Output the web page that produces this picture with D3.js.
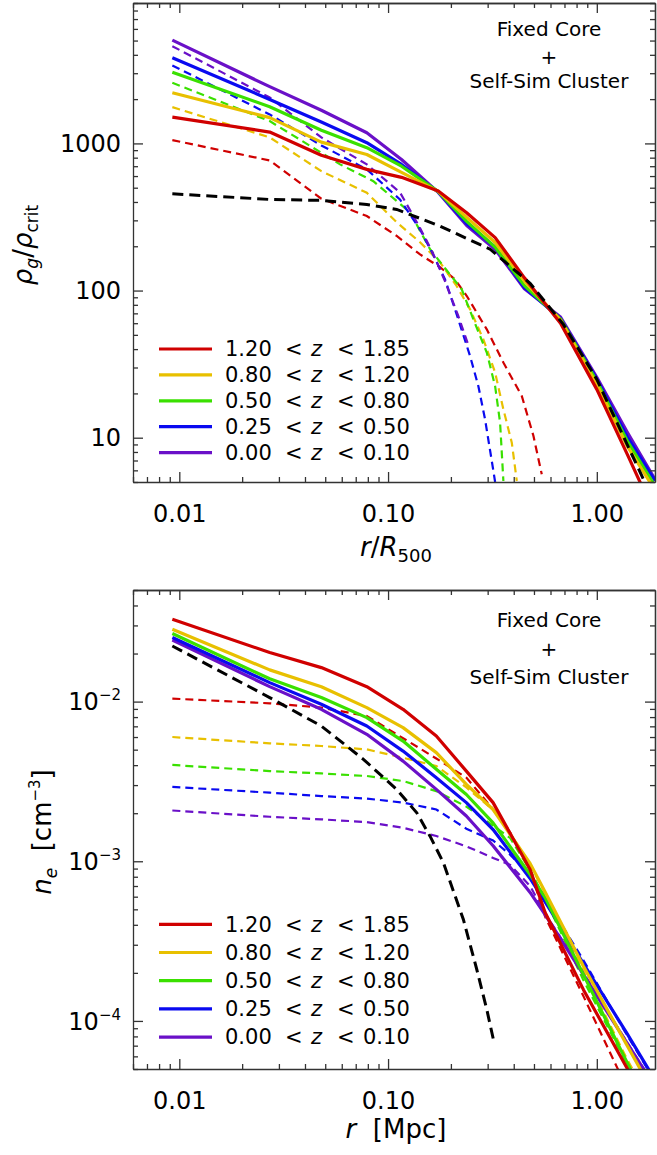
<!DOCTYPE html>
<html>
<head>
<meta charset="utf-8">
<script src="https://cdn.jsdelivr.net/npm/d3@7"></script>
<style>
  body { margin: 0; background: #fff; }
  svg { display: block; }
  text { font-family: "DejaVu Sans", sans-serif; fill: #000; white-space: pre; }
</style>
</head>
<body>
<svg id="chart" width="657" height="1155"></svg>
<script>
// ---- data ----
var zBins = [["1.20", "1.85"], ["0.80", "1.20"], ["0.50", "0.80"], ["0.25", "0.50"], ["0.00", "0.10"]];
var xTickValues = [0.01, 0.1, 1];
var rhoTickValues = [10, 100, 1000];
var neTickValues = [1e-4, 1e-3, 1e-2];
var neTickExp = ["\u22124", "\u22123", "\u22122"];

// top panel: rho_g / rho_crit vs r/R500
var rTopSolid = [0.00926, 0.0271, 0.0479, 0.0791, 0.116, 0.174, 0.238, 0.326, 0.45, 0.67, 1.0, 1.4, 1.9];
var rhoRed    = [1510, 1194, 830, 666, 588, 475, 338, 229, 122, 60, 21.3, 7.7, 3.0];
var rhoGold   = [2210, 1496, 1020, 841, 635, 472, 314, 212, 116, 63, 23, 8.75, 4.4];
var rhoGreen  = [3050, 1775, 1230, 935, 700, 470, 295, 197, 108, 64, 24.2, 9.5, 4.7];
var rhoBlue   = [3820, 1990, 1400, 1011, 720, 468, 286, 197, 105, 64.5, 25, 10.1, 5.1];
var rhoPurple = [5030, 2430, 1680, 1182, 778, 465, 277, 190, 103, 66, 25.7, 10.9, 5.2];

var rhoDashRedR = [0.00926, 0.0271, 0.0479, 0.0791, 0.110, 0.1423, 0.1774, 0.2094, 0.2383, 0.2971, 0.3568, 0.4371, 0.4969, 0.5449];
var rhoDashRed  = [1053, 766, 421, 321, 235, 176, 144, 119, 91.8, 54.5, 32.4, 19.2, 10.3, 5.64];
var rhoDashGoldR = [0.00926, 0.0271, 0.0479, 0.0791, 0.110, 0.1423, 0.1774, 0.2134, 0.2471, 0.2861, 0.3257, 0.3568, 0.3915, 0.4137];
var rhoDashGold  = [1765, 1099, 648, 462, 291, 213, 155.5, 107, 74.5, 46.6, 27.7, 15.6, 9.26, 5.08];
var rhoDashGreenR = [0.00926, 0.0271, 0.0479, 0.0589, 0.0850, 0.1274, 0.1589, 0.1896, 0.2254, 0.2563, 0.2971, 0.3257, 0.3440, 0.3568];
var rhoDashGreen  = [2582, 1418, 864, 720, 554, 340, 191, 139, 102, 63.7, 37.9, 22.4, 12.7, 5.08];
var rhoDashBlueR = [0.00926, 0.0271, 0.0479, 0.0791, 0.114, 0.1423, 0.1643, 0.1875, 0.2094, 0.2471, 0.2708, 0.2916, 0.3196, 0.3257];
var rhoDashBlue  = [3390, 1574, 969, 666, 416, 260, 176, 119, 74.5, 35.9, 22.4, 13.3, 5.94, 5.0];
var rhoDashPurpleR = [0.00926, 0.0271, 0.0479, 0.0791, 0.114, 0.1392, 0.1625, 0.1875, 0.2165, 0.2417];
var rhoDashPurple  = [4580, 2054, 1099, 720, 465, 282, 185, 115.5, 67.8, 43.1];
var rhoCoreR = [0.00926, 0.0271, 0.0479, 0.0791, 0.110, 0.1774, 0.3082, 0.4791, 0.6918, 1.0, 1.293, 1.672, 1.903];
var rhoCore  = [455, 416, 410, 385, 356, 274, 191, 112, 58.9, 24.9, 11.4, 5.22, 3.53];

// bottom panel: n_e vs r [Mpc]
var rBotSolid = [0.00926, 0.0271, 0.0479, 0.0791, 0.118, 0.1703, 0.2372, 0.3185, 0.4791, 0.5654, 0.8627, 1.392, 1.9];
var neRed    = [0.0328, 0.0203, 0.01633, 0.0124, 0.00895, 0.00609, 0.00367, 0.00233, 0.000889, 0.000478, 0.000157, 5.09e-5, 2.45e-5];
var neGold   = [0.0284, 0.0158, 0.0124, 0.00917, 0.00687, 0.00479, 0.00303, 0.00211, 0.00097, 0.000641, 0.000220, 7.08e-5, 3.41e-5];
var neGreen  = [0.0267, 0.0139, 0.0106, 0.00794, 0.00566, 0.00377, 0.00262, 0.00174, 0.000826, 0.000593, 0.000195, 5.53e-5, 2.44e-5];
var neBlue   = [0.0252, 0.01315, 0.00962, 0.00703, 0.0049, 0.00334, 0.00233, 0.00158, 0.00078, 0.000557, 0.000229, 8.38e-5, 4.27e-5];
var nePurple = [0.0243, 0.01241, 0.00895, 0.00624, 0.00424, 0.00282, 0.00192, 0.00125, 0.000638, 0.000463, 0.000195, 7.31e-5, 3.85e-5];

var rBotDash = [0.00926, 0.0271, 0.0479, 0.0791, 0.118, 0.1703, 0.2372, 0.3185, 0.3843, 0.4791, 0.5654, 0.8627, 1.392, 1.9];
var neDashRed    = [0.01044, 0.00976, 0.00917, 0.00812, 0.0059, 0.0044, 0.00334, 0.00212, 0.00152, 0.00088, 0.00045, 0.000143, 3.8e-5, 1.6e-5];
var neDashGold   = [0.0060, 0.00548, 0.00527, 0.00502, 0.00445, 0.00395, 0.0029, 0.0021, 0.0015, 0.00095, 0.00063, 0.000205, 5.8e-5, 2.8e-5];
var neDashGreen  = [0.00401, 0.00367, 0.00355, 0.00342, 0.00318, 0.00275, 0.0022, 0.00167, 0.0014, 0.00088, 0.00058, 0.00018, 5.4e-5, 2.4e-5];
var neDashBlue   = [0.00292, 0.00269, 0.00256, 0.00247, 0.00233, 0.00211, 0.0016, 0.00135, 0.0011, 0.00082, 0.00059, 0.00024, 8.2e-5, 4.2e-5];
var neDashPurple = [0.00208, 0.0019, 0.00183, 0.00176, 0.00162, 0.00144, 0.00124, 0.00105, 0.00095, 0.0007, 0.00047, 0.0002, 7.4e-5, 3.9e-5];
var neCoreR = [0.00926, 0.0271, 0.0479, 0.0762, 0.110, 0.1373, 0.1589, 0.1841, 0.2295, 0.2661, 0.2971, 0.3196];
var neCore  = [0.0223, 0.0106, 0.00703, 0.00435, 0.00282, 0.00201, 0.001436, 0.00098, 0.000432, 0.00021, 0.000118, 7.64e-5];

var binColors = ["#d00000", "#e8c000", "#3ae000", "#0a0af0", "#6a10c8"];

var svg = d3.select("#chart");
var xDomain = [0.006, 1.9];

function pairs(rs, vs) {
  return rs.map(function (r, i) { return [r, vs[i]]; });
}

function minorTicks(lo, hi) {
  var out = [];
  for (var e = Math.floor(Math.log10(lo)); e <= Math.ceil(Math.log10(hi)); e++) {
    for (var m = 2; m <= 9; m++) {
      var v = m * Math.pow(10, e);
      if (v >= lo * 0.999 && v <= hi * 1.001) out.push(v);
    }
  }
  return out;
}

function drawPanel(p) {
  var x = d3.scaleLog().domain(xDomain).range([p.left, p.right]);
  var y = d3.scaleLog().domain(p.yDomain).range([p.bottom, p.top]);
  var g = svg.append("g");

  g.append("clipPath").attr("id", "clip" + p.id)
    .append("rect")
      .attr("x", p.left).attr("y", p.top)
      .attr("width", p.right - p.left).attr("height", p.bottom - p.top);

  var line = d3.line()
      .x(function (d) { return x(d[0]); })
      .y(function (d) { return y(d[1]); });

  var curves = g.append("g").attr("clip-path", "url(#clip" + p.id + ")");

  // colored dashed (cluster-only) curves
  p.dashed.forEach(function (s, i) {
    curves.append("path")
      .attr("d", line(s))
      .attr("fill", "none")
      .attr("stroke", binColors[i])
      .attr("stroke-width", 2.2)
      .attr("stroke-dasharray", "8,5");
  });
  // solid curves, purple first so red sits on top
  for (var i = p.solid.length - 1; i >= 0; i--) {
    curves.append("path")
      .attr("d", line(p.solid[i]))
      .attr("fill", "none")
      .attr("stroke", binColors[i])
      .attr("stroke-width", 3.2)
      .attr("stroke-linejoin", "round");
  }
  // black core profile
  curves.append("path")
    .attr("d", line(p.core))
    .attr("fill", "none")
    .attr("stroke", "#000")
    .attr("stroke-width", 3)
    .attr("stroke-dasharray", "11,6");

  // axes: ticks pointing inwards on all four sides
  var xMinor = minorTicks(xDomain[0], xDomain[1]);
  var yMinor = minorTicks(p.yDomain[0], p.yDomain[1]);

  function styleAxis(sel) {
    sel.selectAll("path, line").attr("stroke", "#333").attr("stroke-width", 1.3);
  }

  g.append("g").attr("transform", "translate(0," + p.bottom + ")")
    .call(d3.axisBottom(x).tickValues(xMinor).tickSize(-5).tickSizeOuter(0).tickFormat(""))
    .call(styleAxis);
  var xb = g.append("g").attr("transform", "translate(0," + p.bottom + ")")
    .call(d3.axisBottom(x).tickValues(xTickValues).tickSize(-10).tickSizeOuter(0)
      .tickPadding(23).tickFormat(d3.format(".2f")))
    .call(styleAxis);
  xb.selectAll("text").attr("font-family", "DejaVu Sans").attr("font-size", 24).attr("fill", "#000");
  xb.select(".domain").remove();

  g.append("g").attr("transform", "translate(0," + p.top + ")")
    .call(d3.axisTop(x).tickValues(xMinor).tickSize(-5).tickSizeOuter(0).tickFormat(""))
    .call(styleAxis);
  g.append("g").attr("transform", "translate(0," + p.top + ")")
    .call(d3.axisTop(x).tickValues(xTickValues).tickSize(-10).tickSizeOuter(0).tickFormat(""))
    .call(styleAxis);

  g.append("g").attr("transform", "translate(" + p.left + ",0)")
    .call(d3.axisLeft(y).tickValues(yMinor).tickSize(-5).tickSizeOuter(0).tickFormat(""))
    .call(styleAxis);
  var yl = g.append("g").attr("transform", "translate(" + p.left + ",0)")
    .call(d3.axisLeft(y).tickValues(p.yTicks).tickSize(-10).tickSizeOuter(0)
      .tickPadding(12).tickFormat(p.yFormat ? d3.format("d") : ""))
    .call(styleAxis);
  yl.selectAll("text").attr("font-family", "DejaVu Sans").attr("font-size", 24).attr("fill", "#000");
  yl.select(".domain").remove();

  g.append("g").attr("transform", "translate(" + p.right + ",0)")
    .call(d3.axisRight(y).tickValues(yMinor).tickSize(-5).tickSizeOuter(0).tickFormat(""))
    .call(styleAxis);
  g.append("g").attr("transform", "translate(" + p.right + ",0)")
    .call(d3.axisRight(y).tickValues(p.yTicks).tickSize(-10).tickSizeOuter(0).tickFormat(""))
    .call(styleAxis);

  // power-of-ten labels for the density axis
  if (!p.yFormat) {
    p.yTicks.forEach(function (v, i) {
      var t = g.append("text")
        .attr("x", p.left - 12).attr("y", y(v)).attr("dy", "0.36em")
        .attr("text-anchor", "end").attr("font-size", 24);
      t.append("tspan").text("10");
      t.append("tspan").attr("dy", -10).attr("font-size", 15).text(neTickExp[i]);
    });
  }

  // legend
  zBins.forEach(function (b, i) {
    var ly = p.legendTop + i * p.legendStep;
    g.append("line")
      .attr("x1", 159).attr("x2", 212).attr("y1", ly).attr("y2", ly)
      .attr("stroke", binColors[i]).attr("stroke-width", 3.2);
    var parts = [[b[0], 225, "normal"], ["<", 285, "normal"], ["z", 311, "italic"], ["<", 337, "normal"], [b[1], 363, "normal"]];
    parts.forEach(function (q) {
      g.append("text")
        .attr("x", q[1]).attr("y", ly).attr("dy", "0.35em")
        .attr("font-size", 21).attr("font-style", q[2])
        .text(q[0]);
    });
  });

  // annotation
  var notes = ["Fixed Core", "+", "Self-Sim Cluster"];
  notes.forEach(function (s, i) {
    g.append("text")
      .attr("x", 549).attr("y", p.noteTop + p.noteOffsets[i])
      .attr("text-anchor", "middle").attr("font-size", 20)
      .text(s);
  });
}

drawPanel({
  id: "top", left: 133, right: 655, top: 3, bottom: 482,
  yDomain: [5, 9000], yTicks: rhoTickValues, yFormat: true,
  solid: [pairs(rTopSolid, rhoRed), pairs(rTopSolid, rhoGold), pairs(rTopSolid, rhoGreen),
          pairs(rTopSolid, rhoBlue), pairs(rTopSolid, rhoPurple)],
  dashed: [pairs(rhoDashRedR, rhoDashRed), pairs(rhoDashGoldR, rhoDashGold), pairs(rhoDashGreenR, rhoDashGreen),
           pairs(rhoDashBlueR, rhoDashBlue), pairs(rhoDashPurpleR, rhoDashPurple)],
  core: pairs(rhoCoreR, rhoCore),
  legendTop: 349, legendStep: 25.9,
  noteTop: 36, noteOffsets: [0, 28, 52]
});

drawPanel({
  id: "bot", left: 133, right: 655, top: 590, bottom: 1069,
  yDomain: [5e-5, 0.05], yTicks: neTickValues, yFormat: false,
  solid: [pairs(rBotSolid, neRed), pairs(rBotSolid, neGold), pairs(rBotSolid, neGreen),
          pairs(rBotSolid, neBlue), pairs(rBotSolid, nePurple)],
  dashed: [pairs(rBotDash, neDashRed), pairs(rBotDash, neDashGold), pairs(rBotDash, neDashGreen),
           pairs(rBotDash, neDashBlue), pairs(rBotDash, neDashPurple)],
  core: pairs(neCoreR, neCore),
  legendTop: 924.3, legendStep: 28.2,
  noteTop: 627, noteOffsets: [0, 29, 57]
});

// axis titles
var t1 = svg.append("text").attr("x", 396).attr("y", 556).attr("text-anchor", "middle").attr("font-size", 26);
t1.append("tspan").attr("font-style", "italic").text("r");
t1.append("tspan").text("/");
t1.append("tspan").attr("font-style", "italic").text("R");
t1.append("tspan").attr("font-size", 18).attr("dy", 6).text("500");

var t2 = svg.append("text").attr("x", 396).attr("y", 1138).attr("text-anchor", "middle").attr("font-size", 26);
t2.append("tspan").attr("font-style", "italic").text("r");
t2.append("tspan").text("  [Mpc]");

var t3 = svg.append("text").attr("transform", "translate(32,245) rotate(-90)")
  .attr("text-anchor", "middle").attr("font-size", 26);
t3.append("tspan").attr("font-style", "italic").text("\u03c1");
t3.append("tspan").attr("font-style", "italic").attr("font-size", 17).attr("dy", 6).text("g");
t3.append("tspan").attr("dy", -6).text("/");
t3.append("tspan").attr("font-style", "italic").text("\u03c1");
t3.append("tspan").attr("font-size", 17).attr("dy", 6).text("crit");

var t4 = svg.append("text").attr("transform", "translate(51,832) rotate(-90)")
  .attr("text-anchor", "middle").attr("font-size", 26);
t4.append("tspan").attr("font-style", "italic").text("n");
t4.append("tspan").attr("font-style", "italic").attr("font-size", 17).attr("dy", 6).text("e");
t4.append("tspan").attr("dy", -6).text("  [cm");
t4.append("tspan").attr("font-size", 15).attr("dy", -11).text("\u22123");
t4.append("tspan").attr("dy", 11).text("]");
</script>
</body>
</html>
